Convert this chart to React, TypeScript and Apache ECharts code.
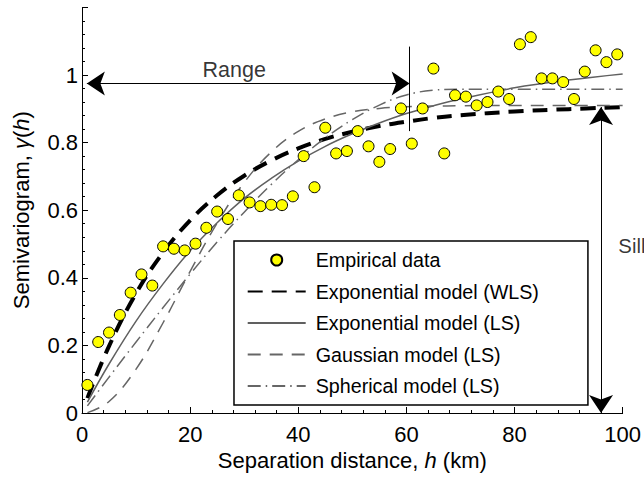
import { useEffect, useRef } from 'react';
import * as echarts from 'echarts';

const FONT = '"Liberation Sans", Arial, Helvetica, sans-serif';

// Empirical semivariogram (lag distance in km, semivariance)
const empiricalH = [
  1, 3, 5, 7, 9, 11, 13, 15, 17, 19,
  21, 23, 25, 27, 29, 31, 33, 35, 37, 39,
  41, 43, 45, 47, 49, 51, 53, 55, 57, 59,
  61, 63, 65, 67, 69, 71, 73, 75, 77, 79,
  81, 83, 85, 87, 89, 91, 93, 95, 97, 99,
];
const empiricalGamma = [
  0.083, 0.210, 0.238, 0.290, 0.356, 0.410, 0.377, 0.493, 0.486, 0.481,
  0.501, 0.548, 0.596, 0.574, 0.644, 0.623, 0.612, 0.616, 0.615, 0.641,
  0.760, 0.668, 0.844, 0.768, 0.775, 0.834, 0.789, 0.743, 0.781, 0.901,
  0.797, 0.901, 1.019, 0.768, 0.940, 0.936, 0.910, 0.920, 0.951, 0.929,
  1.091, 1.112, 0.990, 0.990, 0.979, 0.929, 1.010, 1.073, 1.038, 1.061,
];

// Model curves
const modelH = [1, 5, 10, 15, 20, 25, 30, 35, 40, 45, 50, 55, 60, 65, 70, 80, 90, 100];
const expWls = [0.044, 0.198, 0.354, 0.475, 0.570, 0.644, 0.702, 0.747, 0.783, 0.811, 0.832, 0.849, 0.862, 0.873, 0.881, 0.892, 0.899, 0.905];
const expLs = [0.032, 0.145, 0.272, 0.382, 0.480, 0.563, 0.635, 0.694, 0.745, 0.789, 0.826, 0.858, 0.886, 0.909, 0.929, 0.962, 0.985, 1.003];
const gaussLs = [0.001, 0.034, 0.130, 0.267, 0.419, 0.562, 0.682, 0.772, 0.833, 0.870, 0.891, 0.901, 0.906, 0.908, 0.909, 0.910, 0.910, 0.910];
const spherLs = [0.021, 0.106, 0.210, 0.312, 0.411, 0.506, 0.594, 0.676, 0.749, 0.814, 0.868, 0.911, 0.941, 0.955, 0.958, 0.958, 0.958, 0.958];

const seriesNames = [
  'Empirical data',
  'Exponential model (WLS)',
  'Exponential model (LS)',
  'Gaussian model (LS)',
  'Spherical model (LS)',
];
const xTicks = [0, 20, 40, 60, 80, 100];
const yTicks = [0, 0.2, 0.4, 0.6, 0.8, 1, 1.2];

// Annotations (data coordinates)
const rangeArrow = { from: 0.9, to: 60.6, gamma: 0.975 };
const rangeMarker = { h: 60.6, low: 0.834, high: 1.084 };
const sillArrow = { h: 96.0, low: 0, high: 0.905 };
const annotationTexts = [
  { text: 'Range', h: 28.15, gamma: 0.975 },
  { text: 'Sill', h: 99.2, gamma: 0.494 },
];

const zip = (xs: number[], ys: number[]) => xs.map((x, i) => [x, ys[i]]);

export default function App() {
  const ref = useRef<HTMLDivElement>(null);
  useEffect(() => {
    const chart = echarts.init(ref.current!, null, { renderer: 'svg' });
    const axisText = { fontFamily: FONT, fontSize: 22, color: '#000' };
    const lineModel = (name: string, ys: number[], color: string, width: number, type: any) => ({
      type: 'line',
      name,
      data: zip(modelH, ys),
      smooth: 0.4,
      symbol: 'none',
      lineStyle: { color, width, type },
      itemStyle: { color },
      z: 2,
    });
    chart.setOption({
      animation: false,
      backgroundColor: '#fff',
      grid: { left: 82, right: 15, top: 7.4, bottom: 65 },
      xAxis: {
        type: 'value',
        min: xTicks[0],
        max: xTicks[xTicks.length - 1],
        interval: 20,
        name: '{n|Separation distance, }{i|h}{n| (km)}',
        nameLocation: 'middle',
        nameGap: 35,
        nameTextStyle: {
          ...axisText,
          rich: { n: { ...axisText }, i: { ...axisText, fontStyle: 'italic' } },
        },
        axisLine: { lineStyle: { color: '#000', width: 1 } },
        axisTick: { inside: true, length: 6, lineStyle: { color: '#000' } },
        minorTick: { show: true, splitNumber: 5, length: 3, lineStyle: { color: '#000' } },
        axisLabel: { ...axisText, margin: 10 },
        splitLine: { show: false },
      },
      yAxis: {
        type: 'value',
        min: yTicks[0],
        max: yTicks[yTicks.length - 1],
        interval: 0.2,
        name: '{n|Semivariogram, }{i|γ}{n|(}{i|h}{n|)}',
        nameLocation: 'middle',
        nameRotate: 90,
        nameGap: 50,
        nameTextStyle: {
          ...axisText,
          rich: { n: { ...axisText }, i: { ...axisText, fontStyle: 'italic' } },
        },
        axisLine: { show: true, lineStyle: { color: '#000', width: 1 } },
        axisTick: { show: true, inside: true, length: 6, lineStyle: { color: '#000' } },
        minorTick: { show: true, splitNumber: 5, length: 3, lineStyle: { color: '#000' } },
        axisLabel: {
          ...axisText,
          margin: 4,
          formatter: (v: number) => (v > 1.1 ? '' : String(Math.round(v * 10) / 10)),
        },
        splitLine: { show: false },
      },
      legend: {
        data: seriesNames.map((name, i) =>
          i === 0 ? { name } : { name, itemStyle: { opacity: 0 } }
        ),
        orient: 'vertical',
        left: 234,
        top: 241,
        padding: [9, 49, 9, 12.7],
        itemWidth: 58,
        itemHeight: 11,
        itemGap: 11.5,
        backgroundColor: '#fff',
        borderColor: '#000',
        borderWidth: 1.5,
        borderRadius: 0,
        textStyle: { fontFamily: FONT, fontSize: 19.7, color: '#000', lineHeight: 19, padding: [0, 0, 0, 5] },
        selectedMode: false,
        z: 10,
      },
      series: [
        lineModel(seriesNames[1], expWls, '#000', 4, [15, 9]),
        lineModel(seriesNames[2], expLs, '#606060', 1.5, 'solid'),
        lineModel(seriesNames[3], gaussLs, '#666', 1.5, [13, 9]),
        lineModel(seriesNames[4], spherLs, '#666', 1.5, [13, 5, 1.5, 5]),
        {
          type: 'scatter',
          name: seriesNames[0],
          data: zip(empiricalH, empiricalGamma),
          symbol: 'circle',
          symbolSize: 11,
          itemStyle: { color: '#ffff00', borderColor: '#000', borderWidth: 1, opacity: 1 },
          z: 3,
        },
        {
          type: 'scatter',
          name: 'annotations',
          silent: true,
          symbol: 'circle',
          symbolSize: 0.1,
          itemStyle: { color: 'rgba(0,0,0,0)' },
          z: 4,
          data: annotationTexts.map((a, i) => ({
            value: [a.h, a.gamma],
            label: {
              show: true,
              formatter: a.text,
              position: i === 0 ? 'top' : 'right',
              distance: i === 0 ? 2 : 0,
              fontFamily: FONT,
              fontSize: i === 0 ? 21.5 : 20.3,
              color: '#000',
            },
          })),
          markLine: {
            silent: true,
            symbol: ['arrow', 'arrow'],
            symbolSize: 18,
            label: { show: false },
            lineStyle: { color: '#000', width: 1, type: 'solid' },
            data: [
              [{ coord: [rangeArrow.from, rangeArrow.gamma] }, { coord: [rangeArrow.to, rangeArrow.gamma] }],
              [{ coord: [sillArrow.h, sillArrow.low] }, { coord: [sillArrow.h, sillArrow.high] }],
              [
                { coord: [rangeMarker.h, rangeMarker.low], symbol: 'none' },
                { coord: [rangeMarker.h, rangeMarker.high], symbol: 'none' },
              ],
            ],
          },
        },
      ],
    });
    return () => chart.dispose();
  }, []);
  return (
    <div
      ref={ref}
      style={{ position: 'fixed', left: 0, top: 0, width: 644, height: 478, background: '#fff' }}
    />
  );
}
